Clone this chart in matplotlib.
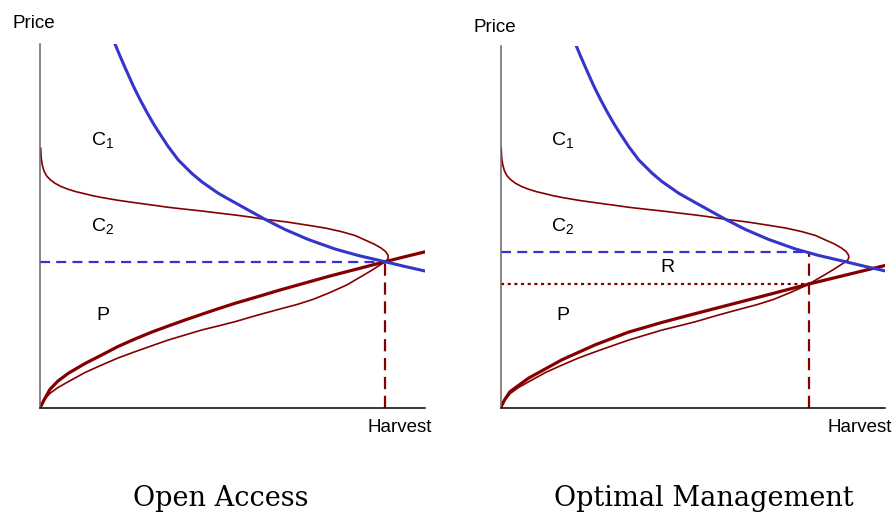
import matplotlib.pyplot as plt

plt.rcParams['font.family'] = ['Liberation Sans', 'DejaVu Sans']
plt.rcParams['mathtext.fontset'] = 'custom'
plt.rcParams['mathtext.rm'] = 'Liberation Sans'
plt.rcParams['mathtext.it'] = 'Liberation Sans'

# values, in screen-ish units (harvest 0-385, price 0-364)
demand_x = [75, 80, 85, 93.3, 100, 107, 113.3, 118.3, 128.3, 138.3, 151.7, 161.7,
            178.3, 195, 210, 225, 245, 268.3, 295, 318.3, 345, 365, 385]
demand_y = [364, 352, 340.5, 322, 308.5, 295.5, 284.5, 276.5, 261.3, 248, 234.7, 226.3,
            214.7, 205.3, 197, 188.7, 178.5, 168.5, 159, 152.5, 146.3, 141.5, 137]

# sustainable yield curve (thin, bends back)
yield_x = [0.7, 1.2, 2.3, 4, 6.7, 10, 15, 21, 28.3, 36, 45, 53, 61.7, 78, 95, 112,
           128.3, 145, 161.7, 178, 195, 210, 225, 247, 268.3, 285, 301.7, 315, 325,
           334, 341, 345.5, 348, 348.3, 347.3, 345, 340, 333, 326.7, 317, 306.7, 290,
           273.3, 257, 240, 218, 195, 178, 161.7, 145, 128.3, 112, 95, 78, 61.7, 45,
           28.3, 18, 10, 4, 0]
yield_y = [259.7, 250, 243, 237, 232, 228.5, 224.7, 221.5, 218.7, 216.3, 214.2, 212.2,
           210.5, 207.7, 205.3, 203, 200.7, 198.8, 197, 195, 193, 191, 188.7, 186,
           182.7, 180, 176.3, 172.5, 168, 164, 160, 156.5, 153, 150.5, 148, 146.3, 143,
           138.5, 134.7, 129, 123, 115.5, 108.7, 103.5, 99, 93, 86.3, 82, 78, 73, 68,
           62.3, 56.3, 50, 43, 35.5, 26.3, 20.5, 14.7, 8, 0]

# harvest cost / supply (thick), open access
supply_oa_x = [0, 4, 10, 18, 28.3, 45, 61.7, 78, 95, 112, 128.3, 145, 161.7, 178, 195,
               218, 240, 265, 290, 318.3, 345, 365, 385]
supply_oa_y = [0, 8, 18.7, 27, 34.7, 44.5, 53, 61.5, 69, 76, 82, 88, 93.7, 99.2, 104.7,
               111.4, 118, 125, 132, 139.3, 146.3, 151.3, 156.2]

# supply (thick), optimal management
supply_om_x = [0, 4, 9.5, 27.8, 61.2, 94.5, 127.8, 161.2, 184.5, 194.5, 251.2, 308.5, 384.5]
supply_om_y = [0, 8, 16.3, 29.7, 48.1, 63.1, 75.8, 85.5, 91.7, 94.3, 109, 124, 142.5]

oa_harvest, oa_price = 345, 146.3
om_harvest, om_price, om_cost = 308.5, 155.7, 123.7

blue = '#3535cc'
red = '#840000'

W, H = 896, 512
fig = plt.figure(figsize=(W / 100, H / 100), dpi=100)


def panel(x0, w, h):
    ax = fig.add_axes([x0 / W, (H - 408) / H, w / W, h / H])
    ax.set_xlim(0, w)
    ax.set_ylim(0, h)
    ax.spines['top'].set_visible(False)
    ax.spines['right'].set_visible(False)
    ax.spines['left'].set_color('#666666')
    ax.spines['left'].set_linewidth(1.1)
    ax.spines['bottom'].set_color('black')
    ax.spines['bottom'].set_linewidth(1.1)
    ax.set_xticks([])
    ax.set_yticks([])
    ax.patch.set_alpha(0)
    return ax


def curves(ax, sx, sy):
    ax.plot(yield_x, yield_y, color=red, lw=1.2, solid_joinstyle='round')
    ax.plot(sx, sy, color=red, lw=2.3, solid_joinstyle='round')
    ax.plot(demand_x, demand_y, color=blue, lw=2.2, solid_joinstyle='round')


def labels(ax, x):
    ax.text(x, 268, r'C$_1$', ha='center', va='center', fontsize=14)
    ax.text(x, 182, r'C$_2$', ha='center', va='center', fontsize=14)
    ax.text(x, 93, 'P', ha='center', va='center', fontsize=14)


# open access
ax1 = panel(40, 385, 364)
ax1.plot([0, oa_harvest], [oa_price, oa_price], color=blue, lw=1.6, dashes=(4.5, 2.8))
ax1.plot([oa_harvest, oa_harvest], [0, oa_price], color=red, lw=1.6, dashes=(5.5, 3.0))
curves(ax1, supply_oa_x, supply_oa_y)
labels(ax1, 63)

# optimal management
ax2 = panel(500.5, 384, 362)
ax2.plot([0, om_harvest], [om_price, om_price], color=blue, lw=1.6, dashes=(4.5, 2.8))
ax2.plot([0, om_harvest], [om_cost, om_cost], color=red, lw=1.6, dashes=(1.4, 1.6))
ax2.plot([om_harvest, om_harvest], [0, om_price], color=red, lw=1.6, dashes=(5.5, 3.0))
curves(ax2, supply_om_x, supply_om_y)
labels(ax2, 62.5)
ax2.text(167, 140, 'R', ha='center', va='center', fontsize=14)

for x, y, s in [(34, 24, 'Price'), (400, 428, 'Harvest'),
                (495, 27, 'Price'), (860, 428, 'Harvest')]:
    fig.text(x / W, 1 - y / H, s, ha='center', va='center', fontsize=13.5)

fig.text(221 / W, 1 - 498 / H, 'Open Access', ha='center', va='center',
         fontsize=19.5, family='DejaVu Serif')
fig.text(704 / W, 1 - 498 / H, 'Optimal Management', ha='center', va='center',
         fontsize=19.5, family='DejaVu Serif')

fig.savefig('out.png', dpi=100)
